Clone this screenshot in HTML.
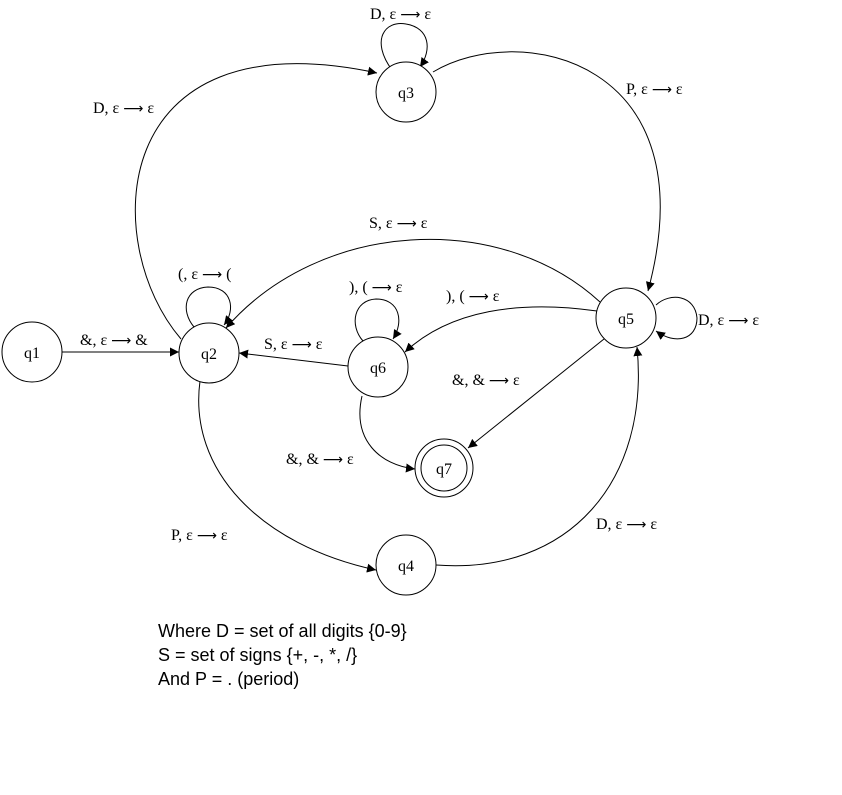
<!DOCTYPE html>
<html><head><meta charset="utf-8"><style>
html,body{margin:0;padding:0;background:#fff;}
svg{display:block;}
.l{font-family:"Liberation Serif",serif;font-size:16px;fill:#000;}
.l tspan.r{font-family:"DejaVu Sans",sans-serif;font-size:14px;}
.s{font-family:"Liberation Sans",sans-serif;font-size:18px;fill:#000;}
.e{fill:none;stroke:#000;stroke-width:1;}
.n{fill:#fff;stroke:#000;stroke-width:1;}
</style></head><body>
<svg width="842" height="795" viewBox="0 0 842 795">
<defs><marker id="a" viewBox="0 0 10 10" refX="10" refY="5" markerWidth="9" markerHeight="9" orient="auto-start-reverse" markerUnits="userSpaceOnUse"><path d="M0,0 L10,5 L0,10 z" fill="#000"/></marker></defs>
<g>
<line class="e" x1="62" y1="352" x2="179" y2="352" marker-end="url(#a)"/>
<path class="e" d="M181,339 C100,245 105,15 377,73" marker-end="url(#a)"/>
<path class="e" d="M433,72 C520,20 710,60 648,291" marker-end="url(#a)"/>
<path class="e" d="M392,70 C370,40 385,20 406,24 C430,28 432,50 420,67" marker-end="url(#a)"/>
<path class="e" d="M600,302 C500,210 320,220 226,328" marker-end="url(#a)"/>
<path class="e" d="M597,311 C520,300 450,310 405,352" marker-end="url(#a)"/>
<line class="e" x1="348" y1="366" x2="239" y2="353" marker-end="url(#a)"/>
<path class="e" d="M194,327 C180,310 185,288 208,287 C232,287 236,310 224,325" marker-end="url(#a)"/>
<path class="e" d="M363,341 C349,325 354,300 376,299 C400,299 404,322 393,339" marker-end="url(#a)"/>
<path class="e" d="M362,396 C352,440 380,465 415,469" marker-end="url(#a)"/>
<line class="e" x1="604" y1="339" x2="468" y2="448" marker-end="url(#a)"/>
<path class="e" d="M656,305 C670,292 695,295 697,318 C697,340 675,345 656,331" marker-end="url(#a)"/>
<path class="e" d="M200,381 C188,470 260,545 376,570" marker-end="url(#a)"/>
<path class="e" d="M436,565 C570,575 650,480 637,347" marker-end="url(#a)"/>
</g>
<g>
<g><circle class="n" cx="32" cy="352" r="30"/><text class="l" x="32" y="358" text-anchor="middle">q1</text></g>
<g><circle class="n" cx="209" cy="353" r="30"/><text class="l" x="209" y="359" text-anchor="middle">q2</text></g>
<g><circle class="n" cx="406" cy="92" r="30"/><text class="l" x="406" y="98" text-anchor="middle">q3</text></g>
<g><circle class="n" cx="406" cy="565" r="30"/><text class="l" x="406" y="571" text-anchor="middle">q4</text></g>
<g><circle class="n" cx="626" cy="318" r="30"/><text class="l" x="626" y="324" text-anchor="middle">q5</text></g>
<g><circle class="n" cx="378" cy="367" r="30"/><text class="l" x="378" y="373" text-anchor="middle">q6</text></g>
<g><circle class="n" cx="444" cy="468" r="29"/><circle class="n" cx="444" cy="468" r="23"/><text class="l" x="444" y="474" text-anchor="middle">q7</text></g>
</g>
<g>
<text class="l" x="93" y="113">D, ε <tspan class="r">⟶</tspan> ε</text>
<text class="l" x="370" y="19">D, ε <tspan class="r">⟶</tspan> ε</text>
<text class="l" x="626" y="94">P, ε <tspan class="r">⟶</tspan> ε</text>
<text class="l" x="369" y="228">S, ε <tspan class="r">⟶</tspan> ε</text>
<text class="l" x="178" y="279">(, ε <tspan class="r">⟶</tspan> (</text>
<text class="l" x="349" y="292">), ( <tspan class="r">⟶</tspan> ε</text>
<text class="l" x="446" y="301">), ( <tspan class="r">⟶</tspan> ε</text>
<text class="l" x="698" y="325">D, ε <tspan class="r">⟶</tspan> ε</text>
<text class="l" x="80" y="345">&amp;, ε <tspan class="r">⟶</tspan> &amp;</text>
<text class="l" x="264" y="349">S, ε <tspan class="r">⟶</tspan> ε</text>
<text class="l" x="452" y="385">&amp;, &amp; <tspan class="r">⟶</tspan> ε</text>
<text class="l" x="286" y="464">&amp;, &amp; <tspan class="r">⟶</tspan> ε</text>
<text class="l" x="171" y="540">P, ε <tspan class="r">⟶</tspan> ε</text>
<text class="l" x="596" y="529">D, ε <tspan class="r">⟶</tspan> ε</text>
</g>
<g>
<text class="s" x="158" y="637">Where D = set of all digits {0-9}</text>
<text class="s" x="158" y="661">S = set of signs {+, -, *, /}</text>
<text class="s" x="158" y="685">And P = . (period)</text>
</g>
</svg>
</body></html>
